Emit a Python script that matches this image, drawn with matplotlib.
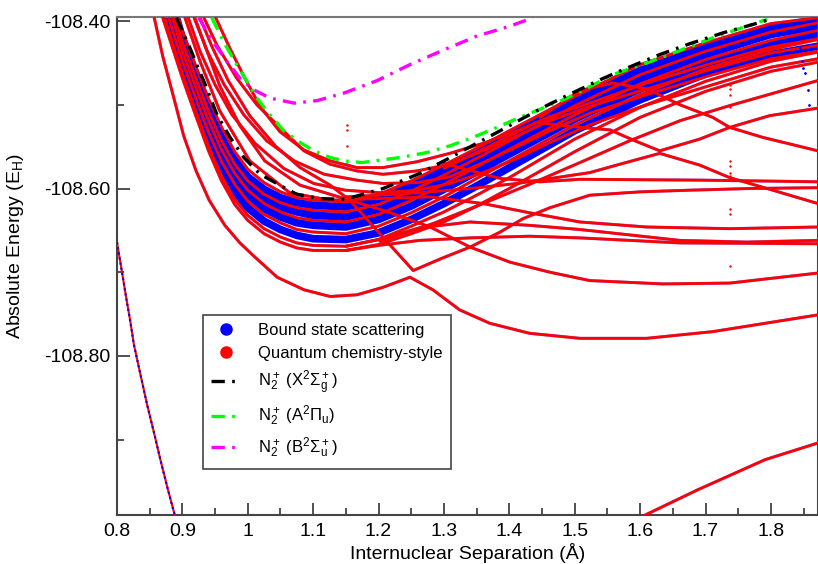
import matplotlib
matplotlib.use('Agg')
import matplotlib.pyplot as plt
from matplotlib.lines import Line2D
from matplotlib.ticker import MultipleLocator, FormatStrFormatter, FuncFormatter

plt.rcParams['font.family'] = ['Liberation Sans', 'DejaVu Sans']
plt.rcParams['mathtext.fontset'] = 'custom'
plt.rcParams['mathtext.rm'] = 'Liberation Sans'
plt.rcParams['mathtext.it'] = 'Liberation Sans:italic'
plt.rcParams['mathtext.bf'] = 'Liberation Sans:bold'
plt.rcParams['mathtext.default'] = 'regular'

# reference ion states (dash-dot)
x_X = [0.891, 0.896, 0.910, 0.922, 0.935, 0.953, 0.973, 0.994, 1.019, 1.049, 1.075, 1.110, 1.149, 1.207,
       1.263, 1.305, 1.350, 1.386, 1.421, 1.457, 1.488, 1.539, 1.574, 1.630, 1.676, 1.727, 1.768, 1.794, 1.800]
y_X = [-108.396, -108.405, -108.429, -108.452, -108.476, -108.512, -108.539, -108.563, -108.583, -108.596,
       -108.607, -108.612, -108.613, -108.600, -108.582, -108.565, -108.546, -108.531, -108.516, -108.501,
       -108.489, -108.470, -108.458, -108.440, -108.427, -108.414, -108.405, -108.399, -108.396]
x_A = [0.945, 0.964, 0.983, 1.002, 1.014, 1.034, 1.055, 1.080, 1.101, 1.126, 1.147, 1.175, 1.233, 1.274,
       1.309, 1.344, 1.381, 1.416, 1.451, 1.488, 1.519, 1.558, 1.610, 1.661, 1.711, 1.763, 1.794]
y_A = [-108.396, -108.426, -108.452, -108.476, -108.492, -108.512, -108.531, -108.545, -108.555, -108.563,
       -108.567, -108.569, -108.563, -108.557, -108.549, -108.539, -108.527, -108.515, -108.504, -108.492,
       -108.480, -108.464, -108.450, -108.435, -108.420, -108.406, -108.398]
x_B = [0.925, 0.948, 0.968, 0.988, 1.009, 1.034, 1.071, 1.106, 1.147, 1.198, 1.248, 1.298, 1.350, 1.401, 1.436]
y_B = [-108.396, -108.426, -108.448, -108.468, -108.482, -108.492, -108.498, -108.495, -108.486, -108.471,
       -108.452, -108.435, -108.418, -108.406, -108.396]

# dense band of states: entry point at the top, then a shared x grid
band_grid = [0.90, 0.92, 0.94, 0.96, 0.98, 1.00, 1.025, 1.05, 1.075, 1.10, 1.15, 1.20, 1.25, 1.30,
             1.35, 1.40, 1.50, 1.60, 1.70, 1.80, 1.872]
blue_top = [0.891, 0.887, 0.882, 0.876]
blue_vals = [
    [-108.420, -108.462, -108.503, -108.538, -108.566, -108.586, -108.601, -108.611, -108.617, -108.620, -108.622,
     -108.613, -108.597, -108.578, -108.558, -108.537, -108.496, -108.459, -108.431, -108.408, -108.398],
    [-108.430, -108.472, -108.513, -108.548, -108.576, -108.596, -108.612, -108.622, -108.628, -108.632, -108.634,
     -108.625, -108.609, -108.590, -108.569, -108.548, -108.506, -108.469, -108.440, -108.416, -108.406],
    [-108.442, -108.485, -108.526, -108.561, -108.588, -108.608, -108.624, -108.634, -108.641, -108.644, -108.646,
     -108.637, -108.621, -108.601, -108.580, -108.559, -108.517, -108.481, -108.451, -108.428, -108.416],
    [-108.455, -108.499, -108.541, -108.575, -108.603, -108.623, -108.639, -108.649, -108.656, -108.660, -108.661,
     -108.653, -108.637, -108.618, -108.597, -108.575, -108.531, -108.494, -108.463, -108.440, -108.430],
]
red_band_top = [0.894, 0.889, 0.885, 0.879, 0.873, 0.870]
red_band_vals = [
    [-108.412, -108.453, -108.493, -108.527, -108.556, -108.577, -108.593, -108.604, -108.611, -108.614, -108.616,
     -108.607, -108.591, -108.572, -108.552, -108.531, -108.490, -108.452, -108.426, -108.403, -108.396],
    [-108.425, -108.467, -108.508, -108.543, -108.571, -108.591, -108.607, -108.617, -108.623, -108.626, -108.628,
     -108.619, -108.603, -108.584, -108.564, -108.543, -108.501, -108.464, -108.436, -108.413, -108.402],
    [-108.436, -108.478, -108.519, -108.554, -108.582, -108.602, -108.618, -108.628, -108.635, -108.638, -108.640,
     -108.631, -108.614, -108.595, -108.574, -108.553, -108.512, -108.475, -108.446, -108.423, -108.411],
    [-108.448, -108.491, -108.533, -108.568, -108.595, -108.615, -108.631, -108.641, -108.649, -108.652, -108.654,
     -108.645, -108.629, -108.610, -108.588, -108.567, -108.524, -108.488, -108.457, -108.434, -108.422],
    [-108.462, -108.506, -108.549, -108.585, -108.613, -108.632, -108.648, -108.658, -108.665, -108.668, -108.669,
     -108.661, -108.645, -108.628, -108.608, -108.587, -108.541, -108.503, -108.472, -108.448, -108.437],
    [-108.468, -108.512, -108.555, -108.591, -108.619, -108.638, -108.654, -108.664, -108.671, -108.674, -108.674,
     -108.667, -108.654, -108.640, -108.621, -108.600, -108.556, -108.515, -108.484, -108.460, -108.449],
]

# upper states that come down between X and A
upper_x = [
    [0.951, 0.973, 0.996, 1.019, 1.049, 1.086, 1.126, 1.167, 1.207, 1.259, 1.309, 1.360, 1.412, 1.462, 1.523, 1.610, 1.711, 1.800, 1.872],
    [0.933, 0.953, 0.983, 1.014, 1.049, 1.086, 1.126, 1.167, 1.207, 1.259, 1.309, 1.360, 1.412, 1.462, 1.523, 1.610, 1.711, 1.800, 1.872],
    [0.918, 0.938, 0.964, 0.994, 1.029, 1.071, 1.117, 1.167, 1.207, 1.259, 1.309, 1.360, 1.412, 1.462, 1.523, 1.610, 1.711, 1.800, 1.872],
    [0.909, 0.927, 0.950, 0.976, 1.011, 1.055, 1.101, 1.149, 1.202, 1.259, 1.309, 1.360, 1.412, 1.462, 1.523, 1.610, 1.711, 1.800, 1.872],
]
upper_y = [
    [-108.396, -108.433, -108.469, -108.502, -108.532, -108.554, -108.567, -108.575, -108.575, -108.568, -108.558, -108.546, -108.531, -108.514, -108.498, -108.474, -108.450, -108.431, -108.421],
    [-108.396, -108.429, -108.468, -108.500, -108.527, -108.555, -108.571, -108.579, -108.583, -108.579, -108.571, -108.555, -108.537, -108.519, -108.502, -108.481, -108.457, -108.438, -108.429],
    [-108.396, -108.436, -108.476, -108.512, -108.543, -108.567, -108.583, -108.590, -108.594, -108.593, -108.586, -108.569, -108.550, -108.531, -108.510, -108.488, -108.464, -108.445, -108.436],
    [-108.396, -108.436, -108.476, -108.512, -108.546, -108.576, -108.594, -108.602, -108.605, -108.602, -108.594, -108.581, -108.564, -108.545, -108.524, -108.500, -108.476, -108.455, -108.445],
]

# states that cross down through the band
cross_x = [
    [0.927, 0.945, 0.970, 1.003, 1.042, 1.080, 1.126, 1.156, 1.202, 1.253, 1.298, 1.340, 1.386, 1.421, 1.462, 1.523, 1.600, 1.676, 1.768, 1.872],
    [0.919, 0.935, 0.957, 0.988, 1.026, 1.080, 1.156, 1.207, 1.279, 1.340, 1.401, 1.462, 1.523, 1.635, 1.737, 1.872],
    [0.904, 0.927, 0.957, 1.003, 1.064, 1.126, 1.202, 1.279, 1.360, 1.431, 1.508, 1.610, 1.737, 1.872],
    [1.15, 1.2, 1.263, 1.340, 1.431, 1.508, 1.661, 1.763, 1.872],
    [1.15, 1.2, 1.263, 1.340, 1.431, 1.508, 1.661, 1.872],
    [1.15, 1.202, 1.263, 1.340, 1.412, 1.523, 1.569, 1.630, 1.691, 1.737, 1.794, 1.872],
    [1.300, 1.386, 1.442, 1.508, 1.554, 1.592, 1.630, 1.691, 1.737, 1.798, 1.872],
    [1.202, 1.283, 1.360, 1.431, 1.508, 1.584, 1.661, 1.737, 1.872],
    [1.300, 1.386, 1.447, 1.508, 1.691, 1.872],
    [1.447, 1.508, 1.558, 1.610, 1.661, 1.711, 1.737, 1.788, 1.872],
]
cross_y = [
    [-108.396, -108.430, -108.471, -108.513, -108.549, -108.575, -108.596, -108.614, -108.654, -108.698, -108.683, -108.670, -108.652, -108.636, -108.623, -108.608, -108.604, -108.602, -108.600, -108.599],
    [-108.396, -108.430, -108.477, -108.525, -108.567, -108.596, -108.614, -108.626, -108.646, -108.670, -108.688, -108.700, -108.710, -108.714, -108.713, -108.701],
    [-108.396, -108.448, -108.507, -108.567, -108.605, -108.614, -108.612, -108.610, -108.618, -108.629, -108.640, -108.646, -108.648, -108.646],
    [-108.669, -108.661, -108.647, -108.640, -108.644, -108.649, -108.662, -108.664, -108.662],
    [-108.674, -108.668, -108.662, -108.659, -108.657, -108.659, -108.665, -108.666],
    [-108.610, -108.608, -108.605, -108.600, -108.594, -108.581, -108.571, -108.558, -108.572, -108.587, -108.600, -108.618],
    [-108.576, -108.543, -108.521, -108.527, -108.530, -108.543, -108.555, -108.541, -108.527, -108.513, -108.504],
    [-108.663, -108.642, -108.618, -108.595, -108.569, -108.543, -108.519, -108.501, -108.471],
    [-108.570, -108.588, -108.592, -108.589, -108.590, -108.592],
    [-108.515, -108.483, -108.474, -108.481, -108.500, -108.515, -108.527, -108.539, -108.555],
]

# lowest adiabatic state with the avoided crossing near 1.25 A
low_x = [0.857, 0.870, 0.886, 0.902, 0.921, 0.941, 0.965, 0.988, 1.011, 1.045, 1.086, 1.126, 1.167, 1.207,
         1.248, 1.283, 1.324, 1.370, 1.431, 1.508, 1.610, 1.711, 1.872]
low_y = [-108.396, -108.442, -108.489, -108.537, -108.579, -108.614, -108.644, -108.665, -108.682, -108.706,
         -108.721, -108.729, -108.727, -108.718, -108.706, -108.721, -108.745, -108.761, -108.773, -108.779,
         -108.779, -108.771, -108.751]

# steep repulsive state on the left and rising state at bottom right
wall_x = [0.800, 0.806, 0.814, 0.820, 0.826, 0.835, 0.846, 0.857, 0.867, 0.878, 0.890]
wall_y = [-108.664, -108.692, -108.730, -108.757, -108.787, -108.819, -108.858, -108.893, -108.926, -108.960, -108.995]
deep_x = [1.600, 1.688, 1.791, 1.872]
deep_y = [-108.993, -108.960, -108.924, -108.904]

# stray points
red_dots_x = [1.152] * 4 + [1.738] * 11
red_dots_y = [-108.524, -108.530, -108.549, -108.571,
              -108.476, -108.481, -108.488, -108.503, -108.567, -108.573, -108.581, -108.585, -108.625, -108.630, -108.692]
blue_dots_x = [1.844, 1.847, 1.849, 1.852, 1.856, 1.859]
blue_dots_y = [-108.432, -108.448, -108.456, -108.462, -108.482, -108.500]

RED = '#ff0000'
BLUE = '#0000ff'

fig = plt.figure(figsize=(8.18, 5.64), dpi=100)
ax = fig.add_axes([0.143, 0.087, 0.857, 0.883])


def red_line(xs, ys):
    ax.plot(xs, ys, color=BLUE, lw=2.2, alpha=0.5, zorder=2, solid_capstyle='round')
    ax.plot(xs, ys, color=RED, lw=2.0, zorder=3, solid_capstyle='round')


for top, vals in zip(blue_top, blue_vals):
    ax.plot([top] + band_grid, [-108.396] + vals, color=BLUE, lw=5.5, zorder=1,
            solid_capstyle='round')

for top, vals in zip(red_band_top, red_band_vals):
    red_line([top] + band_grid, [-108.396] + vals)
for xs, ys in zip(upper_x, upper_y):
    red_line(xs, ys)
for xs, ys in zip(cross_x, cross_y):
    red_line(xs, ys)
red_line(low_x, low_y)
red_line(deep_x, deep_y)

ax.plot(wall_x, wall_y, color=RED, lw=1.5, zorder=3)
ax.plot(wall_x, wall_y, color=BLUE, lw=1.5, ls=(0, (1, 1.5)), zorder=4)

ax.scatter(red_dots_x, red_dots_y, s=3, color=RED, zorder=3, linewidths=0)
ax.scatter(blue_dots_x, blue_dots_y, s=4, color=BLUE, zorder=3, linewidths=0)

dash = (0, (4, 2.2, 0.8, 2.2))
ax.plot(x_B, y_B, color='#ff00ff', lw=2.4, ls=dash, zorder=5)
ax.plot(x_A, y_A, color='#00ff00', lw=2.4, ls=dash, zorder=5)
ax.plot(x_X, y_X, color='black', lw=2.4, ls=dash, zorder=6)

ax.set_xlim(0.8, 1.872)
ax.set_ylim(-108.99, -108.395)

ax.xaxis.set_major_locator(MultipleLocator(0.1))
ax.xaxis.set_minor_locator(MultipleLocator(0.05))
ax.xaxis.set_major_formatter(FuncFormatter(lambda v, p: f'{v:g}'))
ax.yaxis.set_major_locator(MultipleLocator(0.2))
ax.yaxis.set_minor_locator(MultipleLocator(0.1))
ax.yaxis.set_major_formatter(FormatStrFormatter('%.2f'))

ax.tick_params(which='both', direction='in', width=1.1, colors='#222', labelsize=14, labelcolor='black')
ax.tick_params(which='major', length=9)
ax.tick_params(which='minor', length=5)
ax.tick_params(axis='x', pad=6)
ax.tick_params(axis='y', pad=5)
for s in ax.spines.values():
    s.set_linewidth(1.5)
    s.set_color('#444')
ax.spines['top'].set_color('#777')

ax.set_xlabel('Internuclear Separation (Å)', fontsize=14, labelpad=2)
ax.set_ylabel('Absolute Energy (E$_H$)', fontsize=14)
ax.yaxis.set_label_coords(-0.13, 0.54)

handles = [
    Line2D([], [], marker='o', ls='none', color=BLUE, ms=8),
    Line2D([], [], marker='o', ls='none', color=RED, ms=8),
    Line2D([], [], color='black', lw=2.4, ls=dash),
    Line2D([], [], color='#00ff00', lw=2.4, ls=dash),
    Line2D([], [], color='#ff00ff', lw=2.4, ls=dash),
]
labels = ['Bound state scattering', 'Quantum chemistry-style',
          r'N$_2^+$ (X$^2\Sigma_g^+$)', r'N$_2^+$ (A$^2\Pi_u$)', r'N$_2^+$ (B$^2\Sigma_u^+$)']
leg = ax.legend(handles, labels, loc='upper left', bbox_to_anchor=(0.1227, 0.4016), borderaxespad=0,
                fontsize=12, frameon=True, fancybox=False, edgecolor='#444', framealpha=1,
                handlelength=1.8, handletextpad=1.0, labelspacing=0.45, borderpad=0.5)
leg.get_frame().set_linewidth(1.2)
leg.set_zorder(10)

fig.savefig('out.png', dpi=100)
